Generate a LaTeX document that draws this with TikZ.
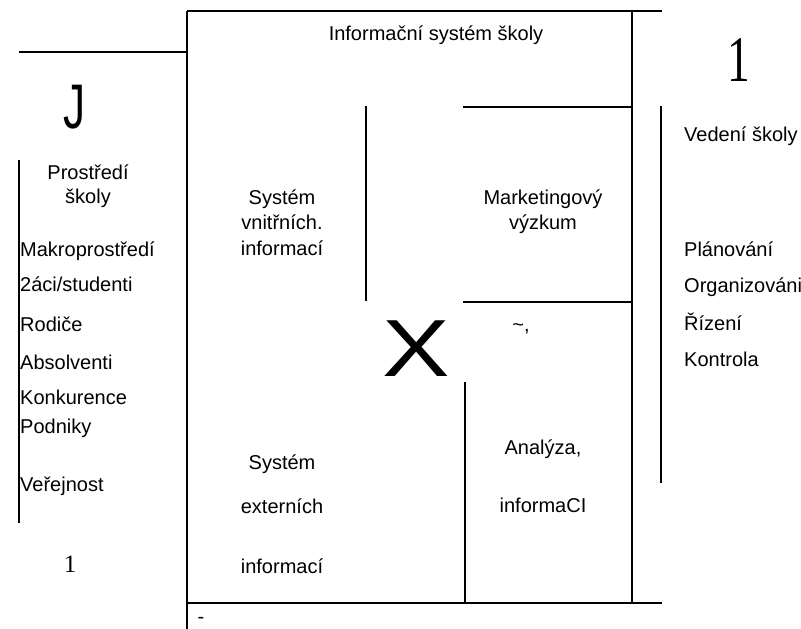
\documentclass[tikz,border=0pt]{standalone}
\usepackage{fontspec}
\setmainfont{Liberation Sans}
\newfontfamily\numfont{Liberation Serif}
\begin{document}
\begin{tikzpicture}[x=1pt,y=-1pt,
  ln/.style={line width=2pt},
  tln/.style={line width=1.6pt},
  lbl/.style={inner sep=0pt,anchor=base,font=\fontsize{20}{24}\selectfont},
  lst/.style={inner sep=0pt,anchor=base west,font=\fontsize{20}{24}\selectfont}]
\useasboundingbox (0,0) rectangle (801,629);
% frame lines
\coordinate (a1) at (19,52);   \coordinate (a2) at (187,52);
\coordinate (t1) at (187,11);  \coordinate (t2) at (662,11);
\coordinate (lb) at (187,629);
\coordinate (r1) at (632,11);  \coordinate (r2) at (632,603);
\coordinate (b1) at (187,603); \coordinate (b2) at (662,603);
\coordinate (h1) at (463,107); \coordinate (h2) at (632,107);
\coordinate (v1) at (366,106); \coordinate (v2) at (366,301);
\coordinate (h3) at (463,302); \coordinate (h4) at (632,302);
\coordinate (v3) at (465,382); \coordinate (v4) at (465,603);
\coordinate (rv1) at (661,106); \coordinate (rv2) at (661,483);
\coordinate (lv1) at (19,160); \coordinate (lv2) at (19,523);
\draw[ln] (a1) -- (a2);
\draw[ln] (t1) -- (t2);
\draw[ln] (t1) -- (lb);
\draw[ln] (r1) -- (r2);
\draw[ln] (b1) -- (b2);
\draw[ln] (h1) -- (h2);
\draw[ln] (v1) -- (v2);
\draw[ln] (h3) -- (h4);
\draw[ln] (v3) -- (v4);
\draw[tln] (rv1) -- (rv2);
\draw[tln] (lv1) -- (lv2);
% texts
\node[lbl] (title) at (436,40) {Informační systém školy};
\node[inner sep=0pt] (bigJ) at (75,107) {\scalebox{0.7}[1]{\fontsize{63}{63}\selectfont J}};
\node[inner sep=0pt] (bigone) at (739,60) {\scalebox{0.7}[1]{\fontsize{65}{65}\numfont 1}};
\node[inner sep=0pt] (smallone) at (70,564.5) {\fontsize{25}{25}\numfont 1};
\node[inner sep=0pt] (bigX) at (416,349) {\scalebox{1.25}[1]{\fontsize{81}{81}\selectfont X}};
\node[lbl] (pr1) at (88,179) {Prostředí};
\node[lbl] (pr2) at (88,203) {školy};
\node[lst] (m1) at (20,256) {Makroprostředí};
\node[lst] (m2) at (20,291) {2áci/studenti};
\node[lst] (m3) at (20,331) {Rodiče};
\node[lst] (m4) at (20,369) {Absolventi};
\node[lst] (m5) at (20,404) {Konkurence};
\node[lst] (m6) at (20,433) {Podniky};
\node[lst] (m7) at (20,491) {Veřejnost};
\node[lbl] (s1) at (282,204) {Systém};
\node[lbl] (s2) at (282,229) {vnitřních.};
\node[lbl] (s3) at (282,255) {informací};
\node[lbl] (mk1) at (543,204) {Marketingový};
\node[lbl] (mk2) at (543,229) {výzkum};
\node[lbl] (tl) at (521,331) {\textasciitilde,};
\node[lbl] (e1) at (282,469) {Systém};
\node[lbl] (e2) at (282,513) {externích};
\node[lbl] (e3) at (282,573) {informací};
\node[lbl] (an1) at (543,454) {Analýza,};
\node[lbl] (an2) at (543,512) {informaCI};
\node[lst] (ve) at (684,141) {Vedení školy};
\node[lst] (f1) at (684,256) {Plánování};
\node[lst] (f2) at (684,292) {Organizováni};
\node[lst] (f3) at (684,330) {Řízení};
\node[lst] (f4) at (684,366) {Kontrola};
\node[lbl] (dash) at (201,623) {-};
\end{tikzpicture}
\end{document}
